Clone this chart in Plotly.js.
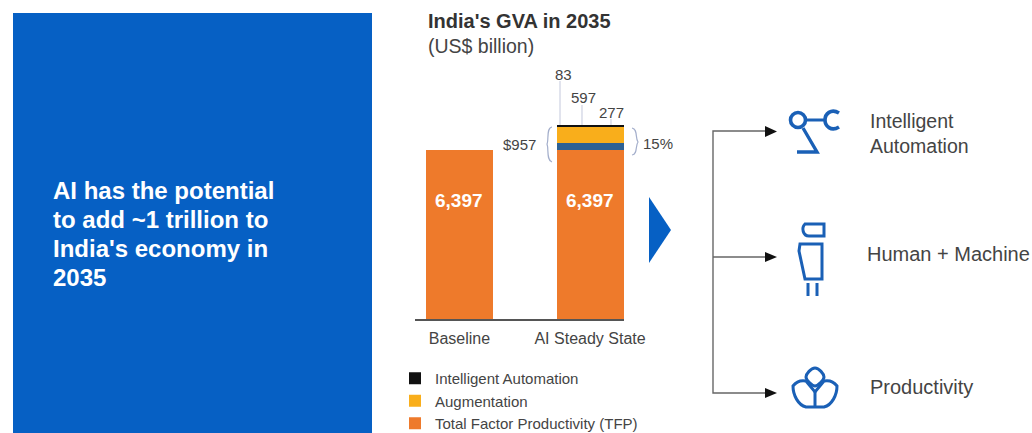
<!DOCTYPE html>
<html>
<head>
<meta charset="utf-8">
<script src="https://cdn.plot.ly/plotly-3.0.1.min.js"></script>
<style>html,body{margin:0;padding:0;background:#fff;overflow:hidden}</style>
</head>
<body>
<div id="chart" style="width:1032px;height:433px"></div>
<script>
// ---- data ----
const categories = ["Baseline", "AI Steady State"];
const tfp = [6397, 6397];
const tfpGain = [0, 277];
const augmentation = [0, 597];
const automation = [0, 83];
const panelLines = ["AI has the potential", "to add ~1 trillion to", "India's economy in", "2035"];
const outcomeLabels = ["Intelligent<br>Automation", "Human + Machine", "Productivity"];

const W = 1032, H = 433;
const FONT = '"Liberation Sans", Arial, sans-serif';
const BLUE = '#0660c4', ICON = '#1a60b6', GREY = '#444', BRACE = '#a3aecb';
const X = px => px / W, Y = py => 1 - py / H;
// build a paper-referenced path from pixel pairs: cmd list like ['M',x,y,'L',x,y,...]
function path(parts) {
  let s = '', i = 0;
  while (i < parts.length) {
    const c = parts[i++];
    if (c === 'Z') { s += 'Z'; continue; }
    const n = c === 'C' ? 3 : c === 'Q' ? 2 : 1;
    const pts = [];
    for (let k = 0; k < n; k++) { pts.push(X(parts[i++]).toFixed(5) + ',' + Y(parts[i++]).toFixed(5)); }
    s += c + pts.join(' ');
  }
  return s;
}
const pshape = (parts, color, width, fill, layer) => ({
  type: 'path', xref: 'paper', yref: 'paper', path: path(parts),
  line: {color: color, width: width === undefined ? 1 : width},
  fillcolor: fill || 'rgba(0,0,0,0)', layer: layer || 'above'
});
const circle = (cx, cy, r, color, width) => ({
  type: 'circle', xref: 'paper', yref: 'paper',
  x0: X(cx - r), x1: X(cx + r), y0: Y(cy + r), y1: Y(cy - r),
  line: {color: color, width: width}, fillcolor: 'rgba(0,0,0,0)'
});
const text = (px, py, t, size, color, anchor, bold) => ({
  xref: 'paper', yref: 'paper', x: X(px), y: Y(py), text: bold ? '<b>' + t + '</b>' : t,
  showarrow: false, xanchor: anchor || 'left', yanchor: 'middle',
  font: {family: FONT, size: size, color: color}, align: 'left'
});

const bar = (name, y, color, legend) => ({
  type: 'bar', name: name, x: categories, y: y, width: 0.513,
  marker: {color: color, line: {width: 0}}, showlegend: legend, hoverinfo: 'skip'
});
const traces = [
  bar('Total Factor Productivity (TFP)', tfp, '#ee7a2b', true),
  bar('TFP gain', tfpGain, '#2d6194', false),
  bar('Augmentation', augmentation, '#f9ae1b', true),
  bar('Intelligent Automation', automation, '#111111', true)
];

const shapes = [
  // left panel
  {type: 'rect', xref: 'paper', yref: 'paper', x0: X(13), x1: X(372), y0: Y(433), y1: Y(13),
   fillcolor: BLUE, line: {width: 0}, layer: 'below'},
  // leader lines for the segment labels
  pshape(['M',560,81,'L',560,125], '#c3c8dc', 1),
  pshape(['M',582,105,'L',582,125], '#c3c8dc', 1),
  pshape(['M',611,119,'L',611,125], '#c3c8dc', 1),
  // braces
  pshape(['M',552,127,'C',546,128,549,140,547,144,'C',549,149,546,160,552,162], BRACE, 1.2),
  pshape(['M',632,128,'C',638,129,635,138,638,142,'C',635,146,638,154,632,155], BRACE, 1.2),
  // chevron
  pshape(['M',649,197,'L',671,230,'L',649,263,'Z'], BLUE, 0, BLUE),
  // connectors
  pshape(['M',765,131,'L',713,131,'L',713,393,'L',765,393], '#666', 1.4),
  pshape(['M',713,257,'L',765,257], '#666', 1.4),
  pshape(['M',765,126,'L',777,131.5,'L',765,137,'Z'], '#111', 0, '#111'),
  pshape(['M',765,252,'L',777,257,'L',765,262,'Z'], '#111', 0, '#111'),
  pshape(['M',765,388,'L',777,393,'L',765,398,'Z'], '#111', 0, '#111'),
  // icon: robot arm
  circle(798, 120, 7.5, ICON, 3.6),
  pshape(['M',806,120,'L',826,120], ICON, 3),
  pshape(['M',839,113,'C',831,108,825,114,825,120,'C',825,126,831,132,839,127], ICON, 3.6),
  pshape(['M',803,128,'L',817,152,'L',797,152], ICON, 3.4),
  // icon: human + machine
  pshape(['M',805,224,'L',824,224,'L',824,236,'L',809,236,'C',803,236,801,228,805,224,'Z'], ICON, 3),
  pshape(['M',800,244,'L',822,244,'L',822,279,'L',805,279,'L',799,251,'Z'], ICON, 3),
  pshape(['M',808,283,'L',808,296], ICON, 3),
  pshape(['M',817,283,'L',817,296], ICON, 3),
  // icon: productivity
  pshape(['M',815,368,'C',819,368,824,374,824,377,'C',824,380,818,386,815,386,'C',812,386,806,380,806,377,'C',806,374,811,368,815,368,'Z'], ICON, 3),
  pshape(['M',815,392,'L',815,407], ICON, 3),
  pshape(['M',806,381,'C',801,380,796,382,793,386,'C',793,395,798,405,806,407,'L',824,407,'C',832,405,837,395,837,386,'C',834,382,829,380,824,381,'L',815,392,'L',806,381,'Z'], ICON, 3)
];

const annotations = [
  text(426, 21, "India's GVA in 2035", 20, '#333', 'left', true),
  text(426, 46, '(US$ billion)', 19.5, '#444'),
  text(563, 74, String(automation[1]), 15, GREY, 'center'),
  text(583, 97, String(augmentation[1]), 15, GREY, 'center'),
  text(611, 112, String(tfpGain[1]), 15, GREY, 'center'),
  text(519, 144, '$957', 15, GREY, 'center'),
  text(658, 143, '15%', 15, GREY, 'center'),
  text(868, 133, outcomeLabels[0], 19.5, GREY),
  text(865, 254, outcomeLabels[1], 20, GREY),
  text(868, 387, outcomeLabels[2], 20, GREY)
];
panelLines.forEach((line, i) => annotations.push(text(51, 190 + i * 29, line, 24, '#fff', 'left', true)));
categories.forEach((c, i) => annotations.push({
  xref: 'x', yref: 'y', x: i, y: 4500, text: '<b>' + tfp[i].toLocaleString('en-US') + '</b>',
  showarrow: false, font: {family: FONT, size: 19, color: '#fff'}
}));

const layout = {
  width: W, height: H,
  margin: {l: 0, r: 0, t: 0, b: 0, autoexpand: false},
  paper_bgcolor: '#fff', plot_bgcolor: 'rgba(0,0,0,0)',
  barmode: 'stack', font: {family: FONT, color: GREY},
  xaxis: {
    domain: [X(415), X(624)], range: [-0.34, 1.26], type: 'category',
    showline: true, linecolor: '#555', linewidth: 2, ticks: '', showgrid: false,
    ticklabelstandoff: 4,
    tickfont: {family: FONT, size: 16, color: GREY}, fixedrange: true
  },
  yaxis: {
    domain: [Y(319), Y(107.6)], range: [0, 8000], visible: false, fixedrange: true
  },
  legend: {
    x: X(395), y: Y(362), xanchor: 'left', yanchor: 'top',
    font: {family: FONT, size: 15, color: GREY}, bgcolor: 'rgba(0,0,0,0)',
    traceorder: 'reversed', itemclick: false, itemdoubleclick: false
  },
  shapes: shapes, annotations: annotations
};
Plotly.newPlot('chart', traces, layout, {displayModeBar: false, responsive: false});
</script>
</body>
</html>
